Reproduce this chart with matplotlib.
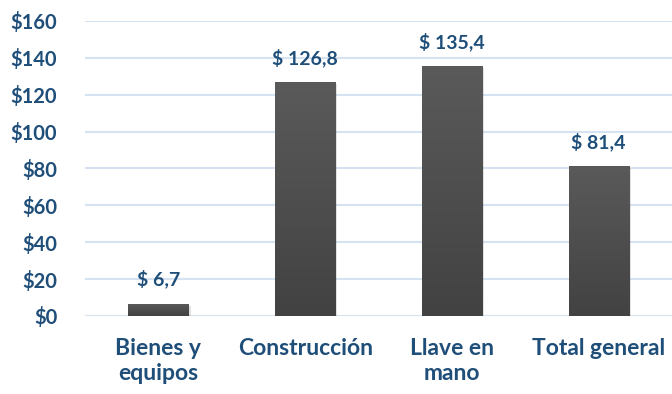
import matplotlib.pyplot as plt
import matplotlib.patheffects as pe
import numpy as np
from matplotlib.colors import LinearSegmentedColormap

categorias = ["Bienes y\nequipos", "Construcción", "Llave en\nmano", "Total general"]
valores = [6.7, 126.8, 135.4, 81.4]
yticks = [0, 20, 40, 60, 80, 100, 120, 140, 160]

azul = "#1f4e79"
plt.rcParams['font.family'] = ['Lato', 'DejaVu Sans']
plt.rcParams['font.weight'] = 'bold'

fig = plt.figure(figsize=(6.72, 3.94), dpi=100)
ax = fig.add_axes([0.1265, 0.198, 0.8735, 0.749])

x = np.arange(len(categorias))
bars = ax.bar(x, valores, width=0.41, color="#4a4a4a", zorder=3,
              path_effects=[pe.SimplePatchShadow(offset=(1.5, -1.5), alpha=0.12), pe.Normal()])

# vertical gradient on each bar
cmap = LinearSegmentedColormap.from_list("g", ["#424242", "#5a5a5a"])
grad = np.linspace(0, 1, 256).reshape(-1, 1)
for b in bars:
    x0, y0 = b.get_x(), b.get_y()
    w, h = b.get_width(), b.get_height()
    im = ax.imshow(grad, cmap=cmap, aspect='auto', origin='lower',
                   extent=[x0, x0 + w, y0, y0 + h], zorder=4)
    im.set_clip_path(b)

for xi, v in zip(x, valores):
    ax.annotate("$ " + f"{v:.1f}".replace(".", ","), (xi, v),
                xytext=(0, 13), textcoords="offset points",
                ha="center", va="baseline", color=azul,
                fontsize=14, fontweight="bold")

ax.set_xlim(-0.5, 3.5)
ax.set_ylim(0, 160)
ax.set_yticks(yticks)
ax.set_yticklabels([f"${t}" for t in yticks], color=azul, fontsize=14.5, fontweight="bold")
ax.set_xticks(x)
ax.set_xticklabels(categorias, color=azul, fontsize=16.5, fontweight="bold", linespacing=1.25)
ax.tick_params(axis='both', length=0)
ax.tick_params(axis='x', pad=16)
ax.tick_params(axis='y', pad=20)
ax.grid(axis='y', color="#d5e2f2", lw=1.5, zorder=0)
for s in ax.spines.values():
    s.set_visible(False)

plt.savefig("out.png", dpi=100)
